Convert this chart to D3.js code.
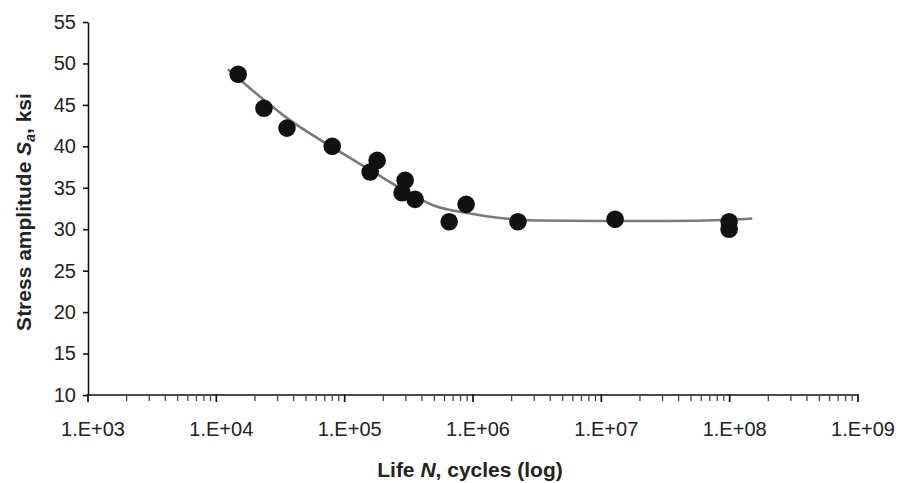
<!DOCTYPE html>
<html>
<head>
<meta charset="utf-8">
<script src="https://cdn.jsdelivr.net/npm/d3@7"></script>
<style>
  body { margin: 0; background: #fff; }
  svg text { font-family: "Liberation Sans", Arial, Helvetica, sans-serif; fill: #222; }
</style>
</head>
<body>
<svg id="chart" width="902" height="483"></svg>
<script>
// test data
const lifeN = [14800, 23500, 35500, 80000, 158000, 179000, 296000, 280000, 354000, 652000, 884000, 2240000, 12800000, 99000000, 99000000];
const stress = [48.7, 44.6, 42.2, 40.0, 36.9, 38.3, 35.9, 34.4, 33.6, 30.9, 33.0, 30.9, 31.2, 30.9, 30.0];

// fitted trend line
const fitN = [12300, 23500, 35600, 80000, 158000, 306000, 488000, 900000, 1630000, 3160000, 10000000, 31600000, 100000000, 150000000];
const fitS = [49.3, 45.6, 43.4, 39.9, 37.15, 34.5, 32.9, 31.95, 31.35, 31.05, 31.0, 31.0, 31.15, 31.3];

const yTicks = d3.range(10, 56, 5);
const xMajor = [1e3, 1e4, 1e5, 1e6, 1e7, 1e8, 1e9];
const xLabel = d => "1.E+" + String(Math.round(Math.log10(d))).padStart(2, "0");

const svg = d3.select("#chart");
const x = d3.scaleLog().domain([1e3, 1e9]).range([88, 858]);
const y = d3.scaleLinear().domain([10, 55]).range([395, 22]);

// minor ticks 2..9 in each decade
const xMinor = [];
for (let e = 3; e < 9; e++) {
    for (let k = 2; k <= 9; k++) xMinor.push(k * Math.pow(10, e));
}

const xAxis = svg.append("g").attr("transform", "translate(0,395)");
xAxis.append("line").attr("x1", 88).attr("x2", 858).attr("stroke", "#111").attr("stroke-width", 1.6);
xAxis.selectAll(".minor").data(xMinor).join("line")
    .attr("class", "minor")
    .attr("x1", d => x(d)).attr("x2", d => x(d))
    .attr("y1", 0).attr("y2", 6)
    .attr("stroke", "#444").attr("stroke-width", 1.3);
xAxis.selectAll(".major").data(xMajor).join("line")
    .attr("class", "major")
    .attr("x1", d => x(d)).attr("x2", d => x(d))
    .attr("y1", -1).attr("y2", 7)
    .attr("stroke", "#111").attr("stroke-width", 1.7);
xAxis.selectAll("text").data(xMajor).join("text")
    .attr("x", d => x(d) + 5).attr("y", 41)
    .attr("text-anchor", "middle")
    .attr("font-size", 20)
    .text(xLabel);

const yAxis = svg.append("g").attr("transform", "translate(88,0)")
    .call(d3.axisLeft(y).tickValues(yTicks).tickSize(5).tickPadding(7).tickSizeOuter(0));
yAxis.select(".domain").attr("stroke", "#111").attr("stroke-width", 1.6);
yAxis.selectAll(".tick line").attr("stroke", "#111").attr("stroke-width", 1.6);
yAxis.selectAll(".tick text").attr("font-size", 20).attr("font-family", "Liberation Sans, Arial, sans-serif").attr("fill", "#222");

// trend line
const line = d3.line().x((d, i) => x(fitN[i])).y((d, i) => y(fitS[i])).curve(d3.curveMonotoneX);
svg.append("path").datum(fitN).attr("d", line)
    .attr("fill", "none").attr("stroke", "#7a7a7a").attr("stroke-width", 2.6);

svg.selectAll(".pt").data(lifeN).join("circle")
    .attr("class", "pt")
    .attr("cx", d => x(d)).attr("cy", (d, i) => y(stress[i]))
    .attr("r", 8.8).attr("fill", "#111");

// axis titles
const xt = svg.append("text").attr("x", 470).attr("y", 477).attr("text-anchor", "middle")
    .attr("font-size", 21).attr("font-weight", "bold");
xt.append("tspan").text("Life ");
xt.append("tspan").attr("font-style", "italic").text("N");
xt.append("tspan").text(", cycles (log)");

const yt = svg.append("text").attr("transform", "translate(31,212) rotate(-90)").attr("text-anchor", "middle")
    .attr("font-size", 21).attr("font-weight", "bold");
yt.append("tspan").text("Stress amplitude ");
yt.append("tspan").attr("font-style", "italic").text("S");
yt.append("tspan").attr("font-style", "italic").attr("font-size", 14).attr("dy", 4).text("a");
yt.append("tspan").attr("dy", -4).text(", ksi");
</script>
</body>
</html>
